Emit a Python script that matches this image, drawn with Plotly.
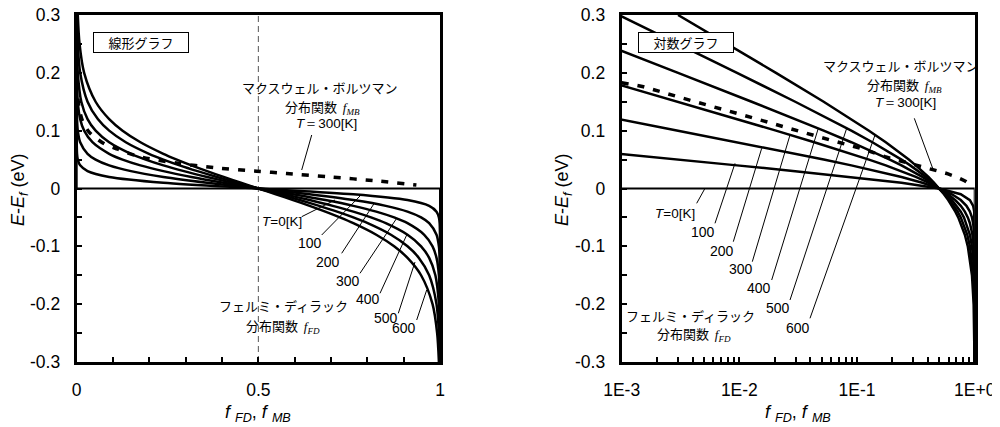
import plotly.graph_objects as go

# ---------------- data ----------------
E = [-0.30, -0.25, -0.20, -0.15, -0.12, -0.10, -0.08, -0.06, -0.05, -0.04, -0.03, -0.02, -0.01,
     0.0, 0.01, 0.02, 0.03, 0.04, 0.05, 0.06, 0.08, 0.10, 0.12, 0.15, 0.20, 0.25, 0.30]

f_100 = [1.0, 1.0, 1.0, 1.0, 0.999999, 0.999991, 0.999907, 0.999054, 0.996989, 0.990453, 0.97016, 0.9106, 0.7614,
         0.5, 0.2386, 0.0894, 0.02984, 0.009547, 0.003011, 0.000946, 9.29e-5, 9.12e-6, 9.0e-7, 2.8e-8, 8.3e-11, 2.5e-13, 7.5e-16]
f_200 = [1.0, 0.9999995, 0.999991, 0.999834, 0.999054, 0.996989, 0.990453, 0.97016, 0.94792, 0.9106, 0.85077, 0.7614, 0.6411,
         0.5, 0.3589, 0.2386, 0.14923, 0.0894, 0.05208, 0.02984, 0.009547, 0.003011, 0.000946, 0.0001658, 9.12e-6, 5.0e-7, 2.75e-8]
f_300 = [0.999991, 0.999937, 0.999564, 0.996988, 0.990453, 0.97953, 0.95667, 0.9106, 0.8737, 0.82453, 0.7614, 0.6843, 0.5955,
         0.5, 0.4045, 0.3157, 0.2386, 0.17547, 0.1263, 0.0894, 0.04333, 0.02047, 0.009547, 0.003012, 0.0004365, 6.31e-5, 9.12e-6]
f_400 = [0.999834, 0.999292, 0.996988, 0.987277, 0.97016, 0.94792, 0.9106, 0.85077, 0.8101, 0.7614, 0.70481, 0.6411, 0.5720,
         0.5, 0.4280, 0.3589, 0.29519, 0.2386, 0.1899, 0.14923, 0.0894, 0.05208, 0.02984, 0.012723, 0.003012, 0.000708, 0.0001659]
f_500 = [0.999054, 0.996988, 0.990453, 0.97016, 0.94186, 0.9106, 0.86494, 0.8010, 0.7614, 0.71675, 0.66735, 0.6140, 0.5577,
         0.5, 0.4423, 0.3860, 0.33265, 0.28325, 0.2386, 0.1990, 0.13506, 0.0894, 0.05814, 0.02984, 0.009547, 0.003012, 0.000946]
f_600 = [0.996988, 0.992118, 0.97953, 0.94792, 0.9106, 0.8737, 0.82453, 0.7614, 0.72452, 0.6843, 0.6411, 0.5955, 0.5482,
         0.5, 0.4518, 0.4045, 0.3589, 0.3157, 0.27548, 0.2386, 0.17547, 0.1263, 0.0894, 0.05208, 0.02047, 0.007882, 0.003012]

fd_series = {"100": f_100, "200": f_200, "300": f_300, "400": f_400, "500": f_500, "600": f_600}

# T = 0 K step (0 written as 1e-9 so it survives the log axis)
T0_f = [1e-9, 1e-9, 1.0, 1.0]
T0_E = [0.30, 0.0, 0.0, -0.30]

# Maxwell-Boltzmann, T = 300 K (dashed)
mb_f = [0.001, 0.00153, 0.00333, 0.0073, 0.016, 0.0349, 0.0766, 0.113, 0.173, 0.275, 0.378, 0.495, 0.578, 0.698, 0.828, 0.935]
mb_E = [0.183, 0.176, 0.156, 0.137, 0.117, 0.097, 0.077, 0.068, 0.055, 0.044, 0.036, 0.030, 0.026, 0.020, 0.013, 0.006]

y_ticks = [-0.3, -0.25, -0.2, -0.15, -0.1, -0.05, 0.0, 0.05, 0.1, 0.15, 0.2, 0.25, 0.3]
y_labels = ["-0.3", "", "-0.2", "", "-0.1", "", "0", "", "0.1", "", "0.2", "", "0.3"]
x_lin_ticks = [0.0, 0.1, 0.2, 0.3, 0.4, 0.5, 0.6, 0.7, 0.8, 0.9, 1.0]
x_lin_labels = ["0", "", "", "", "", "0.5", "", "", "", "", "1"]
x_log_ticks = [0.001, 0.002, 0.003, 0.004, 0.005, 0.006, 0.007, 0.008, 0.009,
               0.01, 0.02, 0.03, 0.04, 0.05, 0.06, 0.07, 0.08, 0.09,
               0.1, 0.2, 0.3, 0.4, 0.5, 0.6, 0.7, 0.8, 0.9, 1.0]
x_log_labels = ["1E-3"] + [""] * 8 + ["1E-2"] + [""] * 8 + ["1E-1"] + [""] * 8 + ["1E+0"]

# ---------------- figure ----------------
# the page body has an 8px margin: the figure is placed so it ends at the window edges
OFF = 8
W, H = 1000 - OFF, 427 - OFF
SANS = "Liberation Sans, Arial, sans-serif"
JP = "Noto Sans CJK JP, sans-serif"


def P(xpx):
    return (xpx - OFF) / W


def Q(ypx):
    return 1 - (ypx - OFF) / H


fig = go.Figure()
for xa, ya, shape in (("x", "y", "spline"), ("x2", "y2", "linear")):
    fig.add_trace(go.Scatter(x=T0_f, y=T0_E, mode="lines", xaxis=xa, yaxis=ya,
                             line=dict(color="black", width=2), showlegend=False, hoverinfo="skip"))
    for name, fv in fd_series.items():
        fig.add_trace(go.Scatter(x=fv, y=E, mode="lines", xaxis=xa, yaxis=ya, name=name + " K",
                                 line=dict(color="black", width=2.5, shape=shape, smoothing=0.8),
                                 showlegend=False))
    fig.add_trace(go.Scatter(x=mb_f, y=mb_E, mode="lines", xaxis=xa, yaxis=ya, name="MB 300 K",
                             line=dict(color="black", width=3.5, dash="7px,9px", shape=shape, smoothing=0.8),
                             showlegend=False))

ydom = [Q(362), Q(15)]
axis_common = dict(showline=True, linewidth=3, linecolor="black", mirror=True, showgrid=False,
                   zeroline=False, ticks="inside", ticklen=5, tickwidth=2, tickcolor="black",
                   tickfont=dict(family=SANS, size=17.5, color="black"), automargin=False,
                   tickmode="array", ticklabeloverflow="allow")

fig.update_layout(
    width=W, height=H, margin=dict(l=0, r=0, t=0, b=0),
    paper_bgcolor="white", plot_bgcolor="white", showlegend=False,
    xaxis=dict(domain=[P(76.7), P(440)], range=[0, 1], tickvals=x_lin_ticks, ticktext=x_lin_labels,
               ticklabelstandoff=10, **axis_common),
    yaxis=dict(domain=ydom, range=[-0.3, 0.3], tickvals=y_ticks, ticktext=y_labels,
               ticklabelstandoff=10, anchor="x", **axis_common),
    xaxis2=dict(domain=[P(621.7), P(974.7)], type="log", range=[-3, 0], tickvals=x_log_ticks,
                ticktext=x_log_labels, ticklabelstandoff=10, anchor="y2", **axis_common),
    yaxis2=dict(domain=ydom, range=[-0.3, 0.3], tickvals=y_ticks, ticktext=y_labels,
                ticklabelstandoff=10, anchor="x2", **axis_common),
)

anns = []


def ann(text, xpx, ypx, size=13, family=JP, **kw):
    d = dict(text=text, x=P(xpx), y=Q(ypx), xref="paper", yref="paper", showarrow=False,
             xanchor="center", yanchor="middle", font=dict(family=family, size=size, color="black"))
    d.update(kw)
    anns.append(d)


fmb = '<span style="font-family:Liberation Serif"><i>f</i><sub><i>MB</i></sub></span>'
ffd = '<span style="font-family:Liberation Serif"><i>f</i><sub><i>FD</i></sub></span>'

# axis titles
for xc in (19, 563):
    ann("<i>E</i>-<i>E<sub>f</sub></i> (eV)", xc, 190, size=18, family=SANS, textangle=-90)
for xc in (258, 798):
    ann("<i>f</i> <sub><i>FD</i></sub>, <i>f</i> <sub><i>MB</i></sub>", xc, 413, size=18, family=SANS)

# boxes
ann("線形グラフ", 140.5, 42.5, size=13, bordercolor="black", borderwidth=1, borderpad=1,
    bgcolor="white", width=92, height=17)
ann("対数グラフ", 685.8, 43, size=13, bordercolor="black", borderwidth=1, borderpad=1,
    bgcolor="white", width=92, height=17)

# left panel labels
ann("マクスウェル・ボルツマン", 320, 88)
ann("分布関数  " + fmb, 322, 107)
ann("<i>T</i>＝300[K]", 326, 124, size=13.5, family=SANS)
ann("<i>T</i>=0[K]", 282, 222, size=13.5, family=SANS)
for lab, (xc, yc) in zip(["100", "200", "300", "400", "500", "600"],
                         [(310, 243), (328.3, 261.7), (348, 280.7), (367.5, 299), (386, 318.3), (404, 328.3)]):
    ann(lab, xc, yc, size=14, family=SANS)
ann("フェルミ・ディラック", 283, 305)
ann("分布関数  " + ffd, 283, 326)

# right panel labels
ann("マクスウェル・ボルツマン", 901, 65)
ann("分布関数  " + fmb, 904, 85)
ann("<i>T</i>＝300[K]", 905, 103, size=13.5, family=SANS)
ann("<i>T</i>=0[K]", 674.5, 213.3, size=13.5, family=SANS)
for lab, (xc, yc) in zip(["100", "200", "300", "400", "500", "600"],
                         [(702.5, 231.7), (721.7, 250.7), (740.5, 269.3), (759.3, 288.3), (778.3, 308.3), (797.5, 328.3)]):
    ann(lab, xc, yc, size=14, family=SANS)
ann("フェルミ・ディラック", 690, 315)
ann("分布関数  " + ffd, 694, 334)

fig.update_layout(annotations=anns)

shapes = [dict(type="line", xref="x", yref="y", x0=0.5, x1=0.5, y0=-0.3, y1=0.3, layer="below",
               line=dict(color="#555555", width=1, dash="6px,4px"))]
leaders = [
    (311.7, 135, 301.7, 170), (301.7, 216.7, 335, 200), (321.7, 235, 360, 196), (341.7, 253.3, 374, 203.7),
    (360, 273.3, 396.7, 218.3), (380, 293.3, 406.7, 235), (398.3, 313.3, 415, 262), (416.7, 320, 426.7, 290),
    (914.3, 118.3, 933.3, 170), (696.7, 203.3, 705, 188.3), (715, 223.3, 735, 163.3), (733.3, 241.7, 761.7, 148.3),
    (752.3, 261.7, 790, 135), (771.7, 280, 818.3, 128.3), (790, 300, 846.7, 128.3), (810, 318.3, 875, 135),
]
for x0, y0, x1, y1 in leaders:
    shapes.append(dict(type="line", xref="paper", yref="paper", x0=P(x0), y0=Q(y0), x1=P(x1), y1=Q(y1),
                       line=dict(color="black", width=1)))
fig.update_layout(shapes=shapes)

fig.write_html("out.html")
